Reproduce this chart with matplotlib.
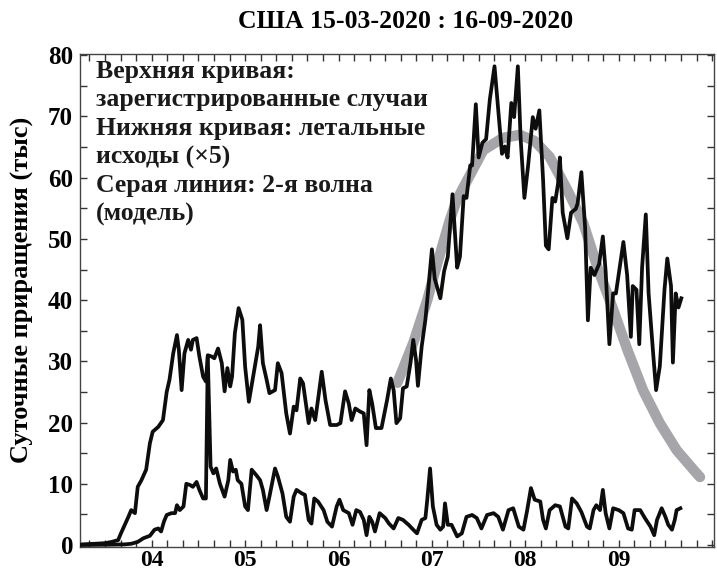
import matplotlib
matplotlib.use('Agg')
import matplotlib.pyplot as plt

plt.rcParams['font.family'] = ['Liberation Serif', 'DejaVu Serif']
plt.rcParams['font.weight'] = 'bold'

# x is in months (4.0 = start of April), y in thousands per day
cases_t = [3.25, 3.39, 3.50, 3.57, 3.64, 3.67, 3.75, 3.78, 3.82, 3.85, 3.89, 3.94, 3.98,
           4.01, 4.07, 4.12, 4.16, 4.19, 4.23, 4.27, 4.29, 4.32, 4.35, 4.39, 4.42, 4.44,
           4.48, 4.51, 4.55, 4.58, 4.60, 4.64, 4.67, 4.71, 4.75, 4.78, 4.81, 4.84, 4.86,
           4.89, 4.93, 4.97, 5.00, 5.04, 5.08, 5.14, 5.16, 5.19, 5.23, 5.26, 5.32, 5.35,
           5.39, 5.44, 5.48, 5.52, 5.55, 5.59, 5.62, 5.68, 5.71, 5.75, 5.78, 5.82, 5.86,
           5.91, 5.98, 6.02, 6.07, 6.11, 6.14, 6.18, 6.23, 6.27, 6.30, 6.33, 6.36, 6.40,
           6.46, 6.52, 6.56, 6.59, 6.62, 6.66, 6.69, 6.73, 6.77, 6.80, 6.83, 6.85, 6.89,
           6.93, 6.95, 7.00, 7.03, 7.09, 7.13, 7.17, 7.22, 7.27, 7.30, 7.34, 7.37, 7.41,
           7.43, 7.47, 7.50, 7.54, 7.58, 7.62, 7.67, 7.71, 7.75, 7.78, 7.81, 7.85, 7.88,
           7.92, 7.95, 7.99, 8.03, 8.08, 8.11, 8.15, 8.19, 8.22, 8.25, 8.29, 8.32, 8.35,
           8.37, 8.40, 8.45, 8.49, 8.54, 8.56, 8.60, 8.64, 8.67, 8.70, 8.74, 8.79, 8.83,
           8.86, 8.90, 8.94, 8.97, 9.01, 9.05, 9.09, 9.13, 9.15, 9.19, 9.22, 9.25, 9.29,
           9.32, 9.37, 9.40, 9.44, 9.49, 9.52, 9.56, 9.58, 9.61, 9.64, 9.67]
cases = [0.1, 0.2, 0.3, 0.5, 0.8, 1.9, 4.6, 5.7, 5.2, 9.5, 10.6, 12.3, 16.6,
         18.5, 19.3, 20.4, 25.0, 27.0, 31.3, 34.3, 31.9, 25.3, 31.3, 33.5, 31.9, 33.5,
         33.8, 30.8, 27.5, 26.7, 31.0, 30.8, 30.5, 32.1, 29.7, 25.1, 28.9, 25.9, 27.5,
         34.6, 38.7, 36.8, 29.1, 23.4, 27.0, 32.4, 35.9, 29.7, 27.0, 24.8, 25.3, 29.7,
         28.1, 21.5, 18.2, 22.6, 22.0, 27.2, 26.4, 19.9, 22.3, 20.4, 23.7, 28.3, 23.7,
         19.6, 19.6, 19.9, 25.1, 23.1, 20.4, 22.3, 21.8, 21.5, 16.3, 25.3, 23.1, 19.1,
         19.1, 23.7, 27.2, 25.3, 19.9, 20.7, 25.6, 25.9, 29.7, 33.5, 30.2, 26.0, 32.4,
         36.8, 40.0, 48.3, 43.5, 40.3, 44.7, 47.1, 57.3, 45.3, 47.1, 57.0, 56.7, 62.0,
         62.0, 72.0, 63.3, 65.7, 66.3, 72.8, 78.2, 71.0, 63.9, 65.1, 63.3, 72.2, 69.9,
         78.2, 66.3, 56.7, 62.0, 69.9, 68.0, 71.0, 59.7, 48.9, 48.3, 56.7, 56.1, 59.0,
         63.3, 54.3, 50.1, 54.3, 54.9, 55.8, 60.9, 51.9, 36.7, 45.3, 44.1, 45.9, 50.4,
         44.7, 32.8, 41.1, 41.1, 45.3, 49.5, 44.1, 34.0, 42.3, 41.7, 32.8, 45.3, 54.0,
         41.1, 31.0, 25.3, 29.2, 41.7, 46.8, 42.3, 29.8, 41.1, 38.8, 40.3]

deaths_t = [3.25, 3.55, 3.71, 3.78, 3.85, 3.91, 3.98, 4.03, 4.07, 4.10, 4.13, 4.16, 4.21,
            4.25, 4.27, 4.30, 4.34, 4.37, 4.41, 4.44, 4.48, 4.51, 4.55, 4.58, 4.60, 4.63,
            4.66, 4.69, 4.73, 4.78, 4.82, 4.84, 4.87, 4.90, 4.92, 4.96, 5.00, 5.03, 5.07,
            5.12, 5.16, 5.19, 5.23, 5.26, 5.32, 5.35, 5.40, 5.44, 5.48, 5.52, 5.55, 5.61,
            5.64, 5.68, 5.71, 5.74, 5.78, 5.84, 5.88, 5.93, 5.98, 6.01, 6.05, 6.11, 6.15,
            6.19, 6.23, 6.27, 6.30, 6.33, 6.36, 6.39, 6.44, 6.50, 6.54, 6.59, 6.64, 6.69,
            6.75, 6.80, 6.84, 6.89, 6.93, 6.95, 6.98, 7.01, 7.05, 7.09, 7.12, 7.14, 7.17,
            7.21, 7.27, 7.32, 7.37, 7.43, 7.48, 7.53, 7.59, 7.66, 7.71, 7.76, 7.82, 7.87,
            7.93, 7.98, 8.02, 8.06, 8.10, 8.16, 8.19, 8.22, 8.26, 8.32, 8.37, 8.43, 8.46,
            8.50, 8.55, 8.60, 8.66, 8.69, 8.73, 8.76, 8.80, 8.83, 8.86, 8.90, 8.94, 9.00,
            9.05, 9.10, 9.14, 9.17, 9.23, 9.28, 9.34, 9.38, 9.41, 9.46, 9.50, 9.53, 9.57,
            9.60, 9.62, 9.66]
deaths_x5 = [0.0, 0.05, 0.1, 0.2, 0.5, 1.1, 1.5, 2.5, 2.7, 2.2, 3.8, 4.9, 5.2,
             5.2, 6.5, 5.7, 6.3, 10.0, 9.8, 9.5, 10.3, 9.0, 7.6, 7.6, 30.8, 12.8,
             11.7, 12.5, 10.0, 7.9, 10.6, 13.9, 12.0, 12.3, 10.6, 10.0, 6.3, 5.7, 12.3,
             11.4, 10.6, 9.0, 5.7, 7.9, 12.5, 11.2, 8.4, 4.6, 3.8, 7.9, 9.0, 8.4,
             8.2, 4.1, 3.5, 7.6, 7.1, 5.7, 3.8, 3.0, 6.3, 7.4, 5.7, 5.2, 3.3,
             5.7, 5.4, 4.1, 1.6, 4.6, 3.8, 2.2, 5.2, 4.4, 3.5, 2.7, 4.4, 4.1,
             3.3, 2.5, 1.9, 4.1, 4.4, 7.4, 12.5, 6.3, 3.3, 2.5, 3.0, 6.8, 3.3,
             3.3, 1.4, 1.9, 4.6, 4.9, 4.4, 2.7, 4.9, 5.2, 4.6, 2.5, 5.7, 6.0,
             3.0, 2.5, 5.7, 9.3, 7.4, 7.1, 4.1, 2.7, 5.7, 6.5, 6.3, 3.0, 2.7,
             7.6, 6.8, 5.4, 3.0, 2.7, 5.7, 6.5, 5.7, 9.0, 5.2, 2.7, 6.0, 5.7,
             5.2, 2.7, 2.5, 5.7, 5.7, 4.4, 3.0, 1.6, 4.1, 6.0, 4.6, 3.3, 2.5,
             4.1, 5.7, 6.0]

model_t = [6.63, 6.80, 6.95, 7.02, 7.19, 7.27, 7.55, 7.76, 7.94, 8.10, 8.26, 8.45,
           8.62, 8.78, 8.94, 9.09, 9.26, 9.44, 9.62, 9.80, 9.87]
model = [26.5, 33.0, 40.0, 44.0, 53.0, 56.5, 64.5, 66.5, 67.0, 66.0, 63.4, 58.0,
         52.6, 45.0, 38.5, 32.0, 25.3, 19.9, 15.5, 12.3, 11.1]

month_ticks = [4, 5, 6, 7, 8, 9]
month_labels = ['04', '05', '06', '07', '08', '09']

fig = plt.figure(figsize=(7.17, 5.75), dpi=100)
ax = fig.add_axes([0.1116, 0.049, 0.8842, 0.857])

ax.plot(model_t, model, color='#a6a6aa', lw=7.5, solid_capstyle='round', zorder=1)
ax.plot(cases_t, cases, color='#0d0d0d', lw=2.7, solid_joinstyle='round', zorder=2)
ax.plot(deaths_t, deaths_x5, color='#0d0d0d', lw=2.7, solid_joinstyle='round', zorder=3)

ax.set_xlim(3.232, 10.02)
ax.set_ylim(-0.3, 80.2)

ax.set_xticks(month_ticks)
ax.set_xticklabels(month_labels)
ax.set_xticks([m / 6 for m in range(20, 61)], minor=True)
ax.set_yticks(range(0, 81, 10))
ax.set_yticks(range(5, 80, 10), minor=True)
ax.tick_params(which='both', direction='in', top=True, right=True,
               length=5, width=1, color='#333333')
ax.tick_params(axis='y', labelsize=18, pad=5)
ax.tick_params(axis='x', labelsize=17, pad=2)
for lab in ax.get_xticklabels() + ax.get_yticklabels():
    lab.set_fontweight('bold')
for sp in ax.spines.values():
    sp.set_color('#444444')
    sp.set_linewidth(1)

ax.set_ylabel('Суточные приращения (тыс)', fontsize=19, fontweight='bold')
ax.yaxis.set_label_coords(-0.072, 0.521)
fig.text(0.566, 0.962, 'США 15-03-2020 : 16-09-2020', ha='center', va='center',
         fontsize=18.5, fontweight='bold')

note = ('Верхняя кривая:\nзарегистрированные случаи\nНижняя кривая: летальные\n'
        'исходы (×5)\nСерая линия: 2-я волна\n(модель)')
ax.text(0.025, 0.988, note, transform=ax.transAxes, ha='left', va='top',
        fontsize=18.5, fontweight='bold', linespacing=1.3, color='#1a1a1a')

fig.savefig('out.png', dpi=100)
